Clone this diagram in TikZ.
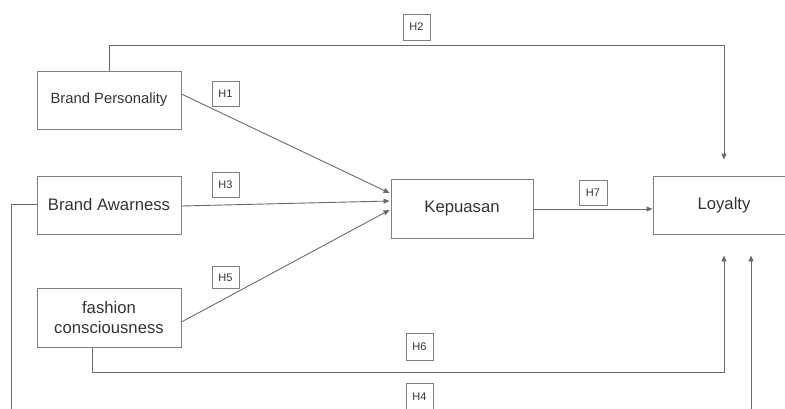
\documentclass[tikz,border=0pt]{standalone}
\usepackage{fontspec}
\setmainfont{Liberation Sans}
\usetikzlibrary{arrows.meta,calc}
\definecolor{linec}{HTML}{6A6A6A}
\definecolor{boxc}{HTML}{808080}
\definecolor{txtc}{HTML}{333333}
\begin{document}
\begin{tikzpicture}[x=1bp,y=-1bp,
  varbox/.style={draw=boxc,line width=0.9bp,minimum width=144bp,minimum height=58bp,inner sep=0pt,align=center,text=txtc,font=\fontsize{16.7bp}{20bp}\selectfont},
  hbox/.style={draw=boxc,line width=0.8bp,minimum width=27bp,minimum height=25bp,inner sep=0pt,text=txtc,font=\fontsize{11bp}{13bp}\selectfont},
  conn/.style={draw=linec,line width=0.9bp},
  arr/.style={conn,-{Triangle[length=6bp,width=5bp]}}]
\useasboundingbox (0,0) rectangle (785,408);
\clip (0,0) rectangle (785,408);
% variables
\node[varbox,font=\fontsize{14.8bp}{18bp}\selectfont] (BP) at (109,100) {Brand Personality};
\node[varbox] (BA) at (109,205) {Brand Awarness};
\node[varbox,minimum height=59bp] (FC) at (109,317.5) {fashion\\consciousness};
\node[varbox,minimum width=142bp,minimum height=59bp] (Kep) at (462,208.5) {Kepuasan};
\node[varbox,minimum width=142bp] (Loy) at (724,205) {Loyalty};
% hypothesis labels
\node[hbox] (H1) at (225.5,93.5) {H1};
\node[hbox,minimum height=26bp] (H2) at (416.5,27) {H2};
\node[hbox] (H3) at (225.5,184.5) {H3};
\node[hbox,minimum height=22bp] (H5) at (225.5,277.5) {H5};
\node[hbox,minimum height=27bp] (H6) at (419.5,346.5) {H6};
\node[hbox,minimum height=27bp] (H4) at (419.5,396.5) {H4};
\node[hbox,minimum width=28bp] (H7) at (593,192.5) {H7};
% connectors
\coordinate (k7) at ($(Kep.east)+(0,0.5)$);
\draw[arr] ($(BP.east)+(0,-6)$) -- ($(Kep.west)+(-1,-15.5)$);
\draw[arr] ($(BA.east)+(0,1)$) -- ($(Kep.west)+(-1,-7.5)$);
\draw[arr] ($(FC.east)+(0,4.5)$) -- ($(Kep.west)+(-1,1.5)$);
\draw[arr] (k7) -- (k7 -| Loy.west);
\draw[arr] (BP.north) -- ++(0,-25) -| ($(Loy.north)+(0,-16)$);
\draw[arr] ($(FC.south)+(-17,0)$) -- ++(0,25) -| ($(Loy.south)+(0,21)$);
\draw[arr] ($(BA.west)+(0,-1)$) -- (11,204) -- (11,420) -| ($(Loy.south)+(27,21)$);
\end{tikzpicture}
\end{document}
